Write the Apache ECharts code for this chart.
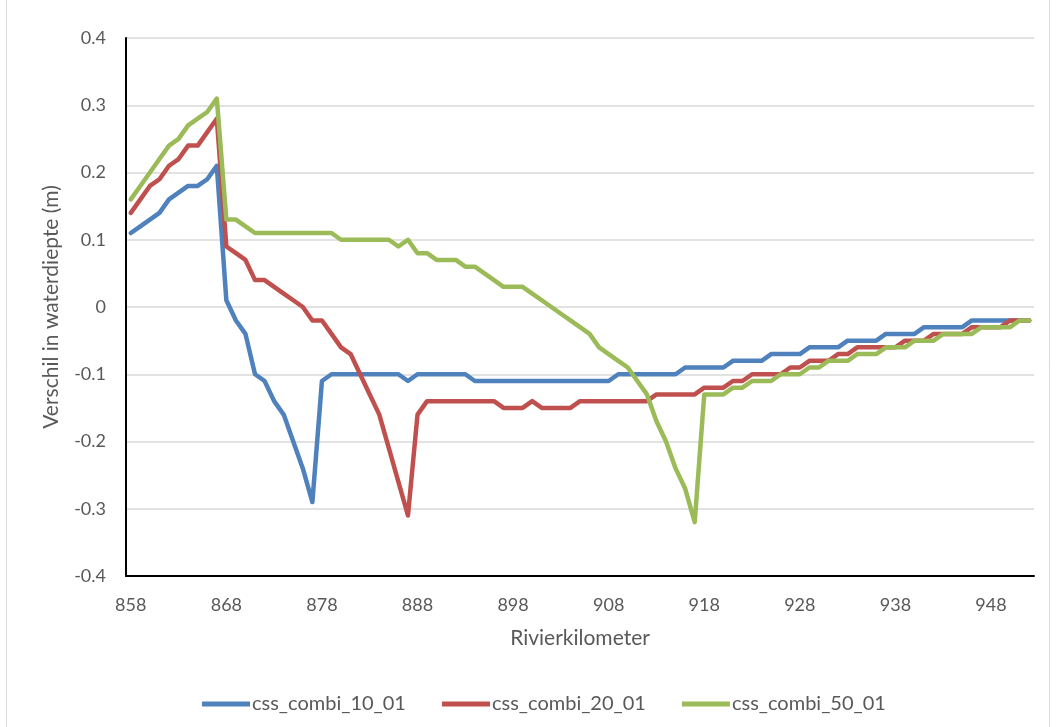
<!DOCTYPE html>
<html>
<head>
<meta charset="utf-8">
<script src="https://cdn.jsdelivr.net/npm/echarts@6/dist/echarts.min.js"></script>
<style>
  html, body { margin: 0; padding: 0; background: #ffffff; }
  #chart { width: 1062px; height: 727px; }
</style>
</head>
<body>
<div id="chart"></div>
<script>
// River kilometres along the x axis (one category per km)
const kilometers = [
  '858','859','860','861','862','863','864','865','866','867',
  '868','869','870','871','872','873','874','875','876','877',
  '878','879','880','881','882','883','884','885','886','887',
  '888','889','890','891','892','893','894','895','896','897',
  '898','899','900','901','902','903','904','905','906','907',
  '908','909','910','911','912','913','914','915','916','917',
  '918','919','920','921','922','923','924','925','926','927',
  '928','929','930','931','932','933','934','935','936','937',
  '938','939','940','941','942','943','944','945','946','947',
  '948','949','950','951','952'
];

// Difference in water depth (m) per scenario
const combi10 = [
  0.11, 0.12, 0.13, 0.14, 0.16, 0.17, 0.18, 0.18, 0.19, 0.21,
  0.01, -0.02, -0.04, -0.10, -0.11, -0.14, -0.16, -0.20, -0.24, -0.29,
  -0.11, -0.10, -0.10, -0.10, -0.10, -0.10, -0.10, -0.10, -0.10, -0.11,
  -0.10, -0.10, -0.10, -0.10, -0.10, -0.10, -0.11, -0.11, -0.11, -0.11,
  -0.11, -0.11, -0.11, -0.11, -0.11, -0.11, -0.11, -0.11, -0.11, -0.11,
  -0.11, -0.10, -0.10, -0.10, -0.10, -0.10, -0.10, -0.10, -0.09, -0.09,
  -0.09, -0.09, -0.09, -0.08, -0.08, -0.08, -0.08, -0.07, -0.07, -0.07,
  -0.07, -0.06, -0.06, -0.06, -0.06, -0.05, -0.05, -0.05, -0.05, -0.04,
  -0.04, -0.04, -0.04, -0.03, -0.03, -0.03, -0.03, -0.03, -0.02, -0.02,
  -0.02, -0.02, -0.02, -0.02, -0.02
];

const combi20 = [
  0.14, 0.16, 0.18, 0.19, 0.21, 0.22, 0.24, 0.24, 0.26, 0.28,
  0.09, 0.08, 0.07, 0.04, 0.04, 0.03, 0.02, 0.01, 0.00, -0.02,
  -0.02, -0.04, -0.06, -0.07, -0.10, -0.13, -0.16, -0.21, -0.26, -0.31,
  -0.16, -0.14, -0.14, -0.14, -0.14, -0.14, -0.14, -0.14, -0.14, -0.15,
  -0.15, -0.15, -0.14, -0.15, -0.15, -0.15, -0.15, -0.14, -0.14, -0.14,
  -0.14, -0.14, -0.14, -0.14, -0.14, -0.13, -0.13, -0.13, -0.13, -0.13,
  -0.12, -0.12, -0.12, -0.11, -0.11, -0.10, -0.10, -0.10, -0.10, -0.09,
  -0.09, -0.08, -0.08, -0.08, -0.07, -0.07, -0.06, -0.06, -0.06, -0.06,
  -0.06, -0.05, -0.05, -0.05, -0.04, -0.04, -0.04, -0.04, -0.03, -0.03,
  -0.03, -0.03, -0.02, -0.02, -0.02
];

const combi50 = [
  0.16, 0.18, 0.20, 0.22, 0.24, 0.25, 0.27, 0.28, 0.29, 0.31,
  0.13, 0.13, 0.12, 0.11, 0.11, 0.11, 0.11, 0.11, 0.11, 0.11,
  0.11, 0.11, 0.10, 0.10, 0.10, 0.10, 0.10, 0.10, 0.09, 0.10,
  0.08, 0.08, 0.07, 0.07, 0.07, 0.06, 0.06, 0.05, 0.04, 0.03,
  0.03, 0.03, 0.02, 0.01, 0.00, -0.01, -0.02, -0.03, -0.04, -0.06,
  -0.07, -0.08, -0.09, -0.11, -0.13, -0.17, -0.20, -0.24, -0.27, -0.32,
  -0.13, -0.13, -0.13, -0.12, -0.12, -0.11, -0.11, -0.11, -0.10, -0.10,
  -0.10, -0.09, -0.09, -0.08, -0.08, -0.08, -0.07, -0.07, -0.07, -0.06,
  -0.06, -0.06, -0.05, -0.05, -0.05, -0.04, -0.04, -0.04, -0.04, -0.03,
  -0.03, -0.03, -0.03, -0.02, -0.02
];

const seriesNames = ['css_combi_10_01', 'css_combi_20_01', 'css_combi_50_01'];
const seriesColors = ['#4F81BD', '#C0504D', '#9BBB59'];

const FONT = 'Lato, "Liberation Sans", sans-serif';
const TEXT = '#595959';

const chart = echarts.init(document.getElementById('chart'), null, { renderer: 'canvas' });

function lineSeries(name, data, color) {
  return {
    name: name,
    type: 'line',
    data: data,
    symbol: 'none',
    smooth: false,
    itemStyle: { color: color },
    lineStyle: { color: color, width: 4.5, cap: 'round', join: 'round' }
  };
}

chart.setOption({
  animation: false,
  backgroundColor: '#ffffff',
  color: seriesColors,
  grid: { left: 126, right: 28, top: 38, bottom: 151 },
  graphic: [{
    type: 'rect',
    silent: true,
    z: -10,
    shape: { x: 6.5, y: -5, width: 1043, height: 740 },
    style: { fill: 'none', stroke: '#d9d9d9', lineWidth: 1 }
  }],
  legend: {
    data: seriesNames,
    left: 197,
    top: 689,
    icon: 'rect',
    itemWidth: 48,
    itemHeight: 5,
    itemGap: 36,
    textStyle: { color: TEXT, fontFamily: FONT, fontSize: 20, padding: [0, 0, 0, -3] }
  },
  xAxis: {
    type: 'category',
    data: kilometers,
    boundaryGap: true,
    axisLine: { show: true, onZero: false, lineStyle: { color: '#000000', width: 2 } },
    axisTick: { show: false },
    splitLine: { show: false },
    axisLabel: { interval: 9, color: TEXT, fontFamily: FONT, fontSize: 18, margin: 20 },
    name: 'Rivierkilometer',
    nameLocation: 'middle',
    nameGap: 52,
    nameTextStyle: { color: TEXT, fontFamily: FONT, fontSize: 21 }
  },
  yAxis: {
    type: 'value',
    min: -0.4,
    max: 0.4,
    interval: 0.1,
    axisLine: { show: true, lineStyle: { color: '#000000', width: 2 } },
    axisTick: { show: false },
    splitLine: { show: true, lineStyle: { color: '#d9d9d9', width: 1.5 } },
    axisLabel: {
      color: TEXT, fontFamily: FONT, fontSize: 18, margin: 20,
      formatter: function (v) { return String(Math.round(v * 10) / 10); }
    },
    name: 'Verschil in waterdiepte (m)',
    nameLocation: 'middle',
    nameRotate: 90,
    nameGap: 64,
    nameTextStyle: { color: TEXT, fontFamily: FONT, fontSize: 21 }
  },
  series: [
    lineSeries(seriesNames[0], combi10, seriesColors[0]),
    lineSeries(seriesNames[1], combi20, seriesColors[1]),
    lineSeries(seriesNames[2], combi50, seriesColors[2])
  ]
});
</script>
</body>
</html>
